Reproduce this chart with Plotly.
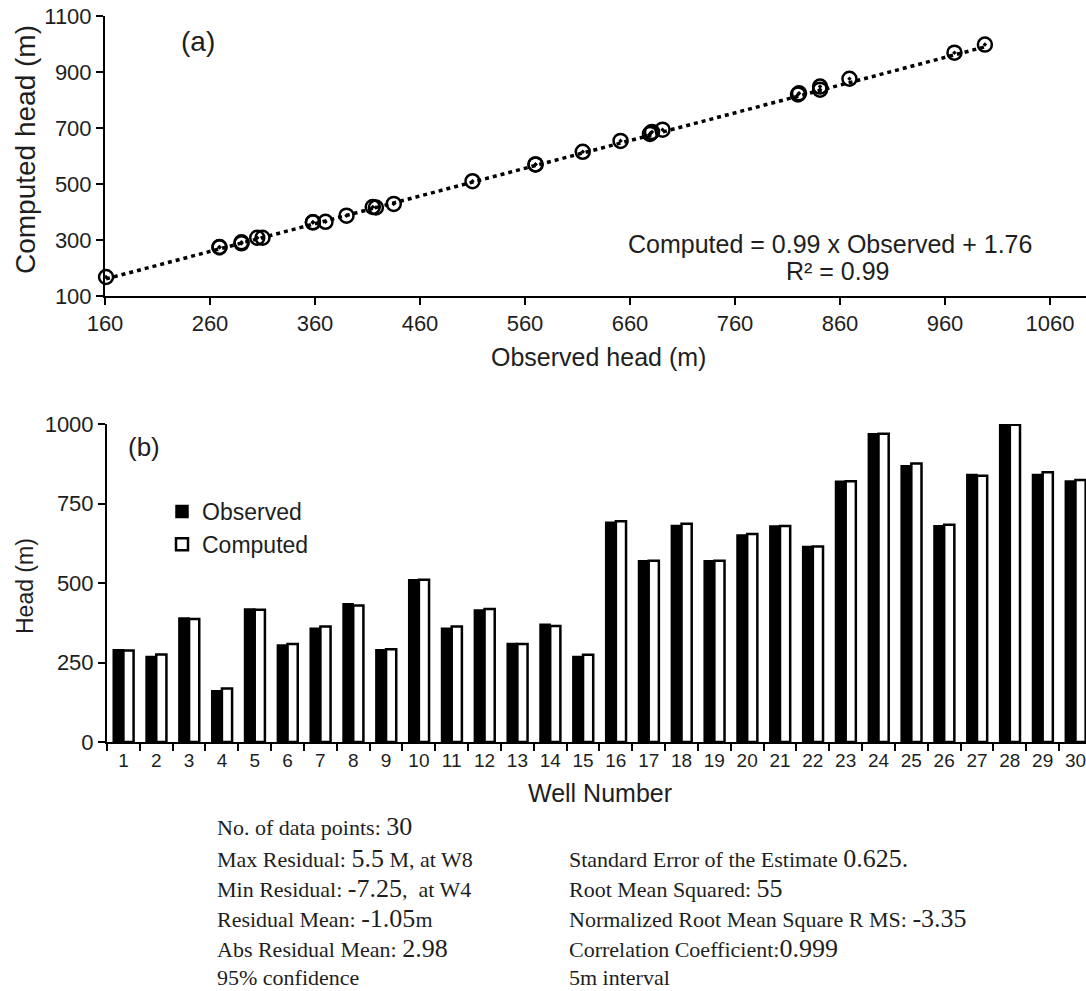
import plotly.graph_objects as go

# ---------------- data ----------------
wells = [str(i) for i in range(1, 31)]
observed = [290, 269, 390, 161, 418, 305, 358, 435, 290, 510,
            358, 415, 310, 370, 269, 691, 570, 681, 570, 651,
            679, 615, 820, 969, 869, 680, 841, 998, 841, 821]
computed = [288, 275, 387, 168, 416, 308, 363, 429, 292, 510,
            363, 418, 308, 365, 274, 694, 570, 686, 570, 654,
            679, 615, 820, 969, 876, 683, 837, 998, 848, 824]
fit_slope = 0.99
fit_intercept = 1.76

x_ticks_a = [160, 260, 360, 460, 560, 660, 760, 860, 960, 1060]
y_ticks_a = [100, 300, 500, 700, 900, 1100]
y_ticks_b = [0, 250, 500, 750, 1000]

stats_left = [
    "No. of data points: <span style='font-size:26px'>30</span>",
    "Max Residual: <span style='font-size:26px'>5.5</span> M, at W8",
    "Min Residual: <span style='font-size:26px'>-7.25</span>,  at W4",
    "Residual Mean: <span style='font-size:26px'>-1.05</span>m",
    "Abs Residual Mean: <span style='font-size:26px'>2.98</span>",
    "95% confidence",
]
stats_right = [
    "Standard Error of the Estimate <span style='font-size:26px'>0.625.</span>",
    "Root Mean Squared: <span style='font-size:26px'>55</span>",
    "Normalized Root Mean Square R MS: <span style='font-size:26px'>-3.35</span>",
    "Correlation Coefficient:<span style='font-size:26px'>0.999</span>",
    "5m interval",
]

W, H = 1086, 991
SANS = "Liberation Sans, Arial, sans-serif"
SERIF = "Liberation Serif, Times New Roman, serif"
TXT = "#1e1e1e"


def px(x):
    return x / W


def py(y):
    return 1 - y / H


fig = go.Figure()

# (a) scatter with trend line
x_fit = [min(observed), max(observed)]
y_fit = [fit_slope * v + fit_intercept for v in x_fit]
fig.add_trace(go.Scatter(x=x_fit, y=y_fit, mode="lines",
                         line=dict(color="black", width=3.5, dash="4px,4px"),
                         xaxis="x", yaxis="y", showlegend=False, hoverinfo="skip",
                         cliponaxis=False))
fig.add_trace(go.Scatter(x=observed, y=computed, mode="markers",
                         marker=dict(symbol="circle-open-dot", size=14, color="black",
                                     line=dict(width=2.5, color="black")),
                         xaxis="x", yaxis="y", showlegend=False, cliponaxis=False))

# (b) bars
fig.add_trace(go.Bar(x=wells, y=observed, name="Observed",
                     marker=dict(color="black", line=dict(color="black", width=1.5)),
                     xaxis="x2", yaxis="y2"))
fig.add_trace(go.Bar(x=wells, y=computed, name="Computed",
                     marker=dict(color="white", line=dict(color="black", width=2.5)),
                     xaxis="x2", yaxis="y2"))

axis_common = dict(showline=True, linecolor="black", linewidth=2, ticks="outside",
                   ticklen=7, tickwidth=2, tickcolor="black", showgrid=False,
                   zeroline=False, automargin=False,
                   tickfont=dict(family=SANS, size=22, color=TXT))

fig.update_layout(
    width=W, height=H,
    margin=dict(l=0, r=0, t=0, b=0, autoexpand=False),
    paper_bgcolor="white", plot_bgcolor="white",
    bargap=0.38, bargroupgap=0.0, barmode="group",
    xaxis=dict(domain=[px(105), 1], range=[160, 160 + 981 / 1.05],
               tickmode="array", tickvals=x_ticks_a, anchor="y", **axis_common),
    yaxis=dict(domain=[py(296), py(16)], range=[100, 1100],
               tickmode="array", tickvals=y_ticks_a, anchor="x", **axis_common),
    xaxis2=dict(domain=[px(107), 1], type="category", range=[-0.5, -0.5 + 979 / 32.83],
                tickson="boundaries", anchor="y2", tickangle=0,
                **{**axis_common, "tickfont": dict(family=SANS, size=19, color=TXT)}),
    yaxis2=dict(domain=[py(742), py(424)], range=[0, 1000],
                tickmode="array", tickvals=y_ticks_b, anchor="x2", **axis_common),
    legend=dict(x=px(162), y=py(490), xanchor="left", yanchor="top",
                font=dict(family=SANS, size=23, color=TXT),
                bgcolor="rgba(0,0,0,0)", borderwidth=0, tracegroupgap=0),
)

ann = []


def add_text(text, x, y, size, family=SANS, xanchor="center", angle=0):
    ann.append(dict(text=text, x=px(x), y=py(y), xref="paper", yref="paper",
                    xanchor=xanchor, yanchor="middle", showarrow=False, textangle=angle,
                    font=dict(family=family, size=size, color=TXT)))


add_text("(a)", 198, 41, 28)
add_text("Computed = 0.99 x Observed + 1.76", 830, 244, 25)
add_text("R² = 0.99", 838, 271, 25)
add_text("Computed head (m)", 26, 150, 28, angle=-90)
add_text("Observed head (m)", 598, 357, 25)
add_text("(b)", 144, 447, 26)
add_text("Head (m)", 25, 586, 23, angle=-90)
add_text("Well Number", 600, 793, 25)

left_y = [826, 858, 888, 918, 948, 977]
for t, yy in zip(stats_left, left_y):
    add_text(t, 215, yy, 22, family=SERIF, xanchor="left")
right_y = [858, 888, 918, 948, 977]
for t, yy in zip(stats_right, right_y):
    add_text(t, 567, yy, 22, family=SERIF, xanchor="left")

fig.update_layout(annotations=ann)
fig.write_html(
    "out.html",
    config={"displayModeBar": False},
    post_script="document.body.style.margin='0';document.body.style.overflow='hidden';",
)
